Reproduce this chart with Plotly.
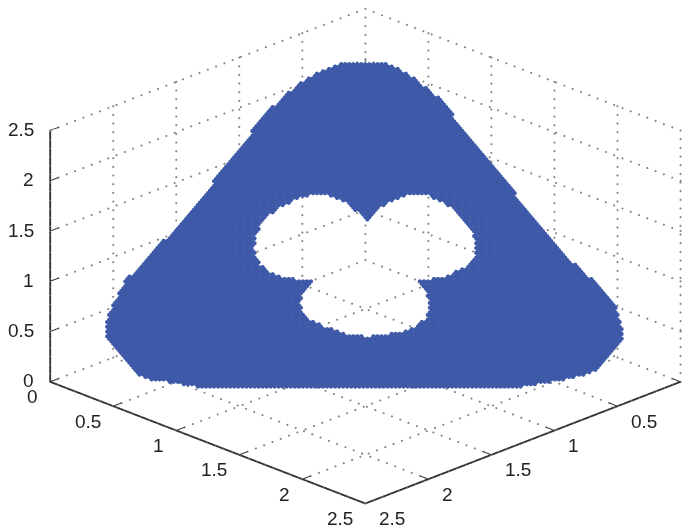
import numpy as np
import plotly.graph_objects as go

# Outline of the point cloud (data coordinates)
outer_x = [.546,.473,.433,.400,.374,.381,.381,.395,.403,.397,.374,.373,.412,.487,.585,.729,.879,1.016,1.179,1.419,1.659,1.899,2.139,2.316,2.382,2.465,2.532,2.560,2.493,2.414,2.307,2.225,2.063,1.833,1.589,1.341,1.167,1.014,.880,.760,.656]
outer_y = [.546,.633,.713,.840,.974,1.101,1.301,1.555,1.803,2.037,2.214,2.349,2.444,2.523,2.525,2.469,2.359,2.256,2.099,1.859,1.619,1.379,1.139,.956,.862,.765,.632,.536,.429,.374,.347,.329,.343,.353,.349,.341,.327,.334,.360,.400,.456]
hole_x = [1.075,1.020,.933,.825,.748,.707,.684,.689,.717,.771,.845,.939,1.017,1.070,1.082,1.099,1.153,1.227,1.316,1.404,1.463,1.534,1.592,1.631,1.636,1.610,1.556,1.490,1.562,1.619,1.647,1.625,1.559,1.489,1.395,1.282,1.196,1.136,1.102,1.081]
hole_y = [1.088,1.087,1.107,1.159,1.242,1.333,1.445,1.529,1.591,1.637,1.631,1.593,1.537,1.496,1.562,1.611,1.647,1.641,1.596,1.524,1.477,1.388,1.286,1.191,1.130,1.090,1.076,1.076,.988,.913,.807,.739,.693,.675,.689,.736,.782,.856,.928,1.027]
plane_sum = 3.6
hole_center = (1.2, 1.2)
ring_scale = 1.2
tick_vals = [0, 0.5, 1, 1.5, 2, 2.5]
tick_text = ["0", "0.5", "1", "1.5", "2", "2.5"]
axis_max = 2.5
grid_step = 0.016
BLUE = "#3d59a8"
STRIPE = "#4c67af"
AXIS = "#333333"
TEXT = "#222222"


def inside(px, py, vx, vy):
    vx, vy = np.asarray(vx), np.asarray(vy)
    wx, wy = np.roll(vx, -1), np.roll(vy, -1)
    res = np.zeros(px.shape, bool)
    for a, b, c, d in zip(vx, vy, wx, wy):
        if b == d:
            continue
        cross = ((b > py) != (d > py)) & (px < (c - a) * (py - b) / (d - b) + a)
        res ^= cross
    return res


gx, gy = np.meshgrid(np.arange(0.3, 2.6, grid_step), np.arange(0.3, 2.6, grid_step))
gx, gy = gx.ravel(), gy.ravel()
in_hole = inside(gx, gy, hole_x, hole_y)
mask = inside(gx, gy, outer_x, outer_y) & ~in_hole
px, py = gx[mask], gy[mask]
pz = plane_sum - px - py

ring_vx = hole_center[0] + (np.array(hole_x) - hole_center[0]) * ring_scale
ring_vy = hole_center[1] + (np.array(hole_y) - hole_center[1]) * ring_scale
ring = inside(gx, gy, ring_vx, ring_vy) & ~in_hole
k = np.round((gy - gx) / grid_step).astype(int)
ring &= (k % 4 == 0)
rx, ry = gx[ring] + 0.01, gy[ring] + 0.01
rz = plane_sum - gx[ring] - gy[ring] + 0.01

fig = go.Figure()

# dotted grid: one dot list per grid line
gxs, gys, gzs = [], [], []


def dotted(a, b, step):
    a, b = np.array(a, float), np.array(b, float)
    n = int(round(np.linalg.norm(b - a) / step))
    t = np.linspace(0, 1, n + 1)
    gxs.extend(a[0] + (b[0] - a[0]) * t)
    gys.extend(a[1] + (b[1] - a[1]) * t)
    gzs.extend(a[2] + (b[2] - a[2]) * t)


M = axis_max
H = 0.065   # floor / wall dot spacing
V = 0.086
for t in tick_vals[1:]:
    dotted((t, M, 0), (t, 0, 0), H)
    dotted((t, 0, 0), (t, 0, M), V)
    dotted((M, t, 0), (0, t, 0), H)
    dotted((0, t, 0), (0, t, M), V)
    dotted((M, 0, t), (0, 0, t), H)
    dotted((0, M, t), (0, 0, t), H)
dotted((0, 0, 0), (0, 0, M), V)
dotted((M, 0, 0), (0, 0, 0), H)
dotted((0, M, 0), (0, 0, 0), H)

fig.add_trace(go.Scatter3d(x=gxs, y=gys, z=gzs, mode="markers", hoverinfo="skip", showlegend=False,
                           marker=dict(size=1.2, color="#808080", line=dict(width=0))))

# short inward ticks
for t in tick_vals:
    for a, b in [((M, t, 0), (M - 0.07, t, 0)), ((t, M, 0), (t, M - 0.07, 0)), ((M, 0, t), (M - 0.07, 0, t))]:
        fig.add_trace(go.Scatter3d(x=[a[0], b[0]], y=[a[1], b[1]], z=[a[2], b[2]], mode="lines", hoverinfo="skip",
                                   showlegend=False, line=dict(color=AXIS, width=2)))

fig.add_trace(go.Scatter3d(x=px, y=py, z=pz, mode="markers", hoverinfo="skip", showlegend=False,
                           marker=dict(size=2.5, color=BLUE, line=dict(width=0))))
fig.add_trace(go.Scatter3d(x=rx, y=ry, z=rz, mode="markers", hoverinfo="skip", showlegend=False,
                           marker=dict(size=1, color=STRIPE, line=dict(width=0))))

axis = dict(range=[0, axis_max], tickvals=tick_vals, showticklabels=False, showgrid=False, zeroline=False,
            showbackground=False, showline=True, linecolor=AXIS, linewidth=4, ticks="",
            title=dict(text=""), showspikes=False)

font = dict(family="Liberation Sans", size=19, color=TEXT)
notes = []
for t, s in zip(tick_vals, tick_text):
    base = dict(text=s, showarrow=False, font=font, yanchor="middle")
    notes.append(dict(base, x=M, y=t, z=0, xanchor="right", xshift=-10, yshift=-15))          # left floor axis
    notes.append(dict(base, x=t, y=M, z=0, xanchor="left", xshift=12 if t else 5, yshift=-15))  # right floor axis
    notes.append(dict(base, x=M, y=0, z=t, xanchor="right", xshift=-14, yshift=1))            # vertical axis

dx, dz = 0.033, -0.067
fig.update_layout(
    width=690, height=529, margin=dict(l=0, r=0, t=0, b=0), paper_bgcolor="white", showlegend=False,
    scene=dict(
        domain=dict(x=[0, 1], y=[0, 1]),
        xaxis=axis, yaxis=axis, zaxis=axis, annotations=notes,
        aspectmode="manual", aspectratio=dict(x=1.685, y=1.685, z=1.03),
        camera=dict(eye=dict(x=1.25 + dx, y=1.25 - dx, z=0.74 + dz), center=dict(x=dx, y=-dx, z=dz),
                    projection=dict(type="orthographic")),
    ),
)
fig.write_html("out.html")
